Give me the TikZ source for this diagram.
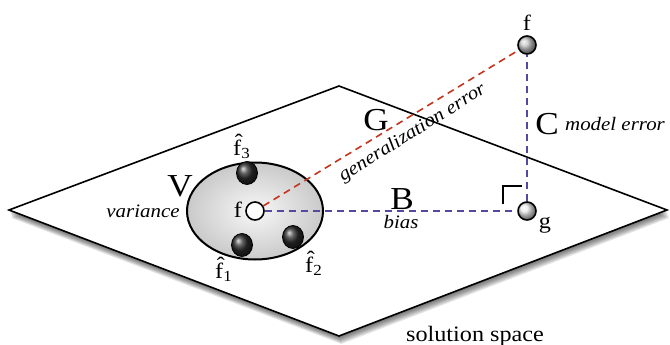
\documentclass[tikz,border=0pt]{standalone}
\usepackage{fontspec}
\setmainfont[FakeStretch=1.1]{Liberation Serif}
\usetikzlibrary{positioning,calc,shapes.geometric}
\definecolor{errred}{RGB}{196,52,30}
\definecolor{errblue}{RGB}{84,72,160}
\newcommand{\esthat}[1]{\^{f}\textsubscript{#1}}
\tikzset{
  plane/.style={draw=black, line width=1.6pt, fill=white, line join=miter},
  spread/.style={ellipse, draw=black, line width=2pt, inner color=gray!6,
                 outer color=gray!42, minimum width=136pt, minimum height=97pt,
                 inner sep=0pt},
  est/.style={ellipse, draw=black, line width=0.8pt, ball color=gray!35!black,
              minimum width=21pt, minimum height=23pt, inner sep=0pt},
  truth/.style={circle, draw=black, line width=1.6pt, minimum size=18pt, inner sep=0pt},
  gerr/.style={errred, line width=1.6pt, dash pattern=on 7pt off 5pt},
  berr/.style={errblue, line width=1.6pt, dash pattern=on 7pt off 5pt},
  lbl/.style={font=\fontsize{22}{24}\selectfont, inner sep=0pt},
  itlbl/.style={font=\fontsize{19}{21}\selectfont\itshape, inner sep=0pt},
  biglbl/.style={font=\fontsize{32}{34}\selectfont, inner sep=0pt}
}
\begin{document}
\begin{tikzpicture}[x=1pt,y=-1pt]
  \useasboundingbox (0,0) rectangle (670,345);
  % solution space with soft shadow
  \foreach \s in {1,...,8}
    \fill[black, opacity=0.09, shift={(0.3*\s,\s)}] (9,210) -- (339,86) -- (667,210) -- (339,336) -- cycle;
  \draw[plane] (9,210) -- (339,86) -- (667,210) -- (339,336) -- cycle;
  \node[lbl, anchor=base] (space) at (475,341) {solution space};

  % variance cloud
  \node[spread] (var) at (255,211) {};
  \node[truth, fill=white] (f) at (255,211) {};
  \node[est] (f3) at (247,173) {};
  \node[est] (f1) at (242,245) {};
  \node[est] (f2) at (293,237) {};
  \node[lbl, anchor=base] (flbl) at (238,217) {f};
  \node[lbl, anchor=base west] (f3lbl) at (233,155) {\esthat{3}};
  \node[lbl, anchor=base west] (f1lbl) at (215,278) {\esthat{1}};
  \node[lbl, anchor=base west] (f2lbl) at (305,272) {\esthat{2}};
  \node[biglbl, anchor=base] (V) at (180,196) {V};
  \node[itlbl, anchor=base] (varlbl) at (143,217) {variance};

  % true function and best model
  \node[truth, ball color=gray!45] (ft) at (527,45) {};
  \node[truth, ball color=gray!15] (g) at (527,211) {};
  \node[lbl, above=4pt of ft] (ftlbl) {f};
  \node[lbl, anchor=base] (glbl) at (545,228) {g};

  \draw[gerr] (f) -- (ft);
  \draw[berr] (f) -- (g);
  \draw[berr] (g) -- (ft);
  \draw[line width=1.1pt] ($(g)+(-24,-7)$) |- ($(g)+(-5,-25)$);

  \node[biglbl, anchor=base] (G) at (376,131) {G};
  \node[itlbl, anchor=base, rotate=32] (glb) at (415,137) {generalization error};
  \node[biglbl, anchor=base] (B) at (402,209) {B};
  \node[itlbl, anchor=base] (blbl) at (401,228) {bias};
  \node[biglbl, anchor=base] (C) at (547,135) {C};
  \node[itlbl, anchor=base west] (clbl) at (565,131) {model error};
\end{tikzpicture}
\end{document}
